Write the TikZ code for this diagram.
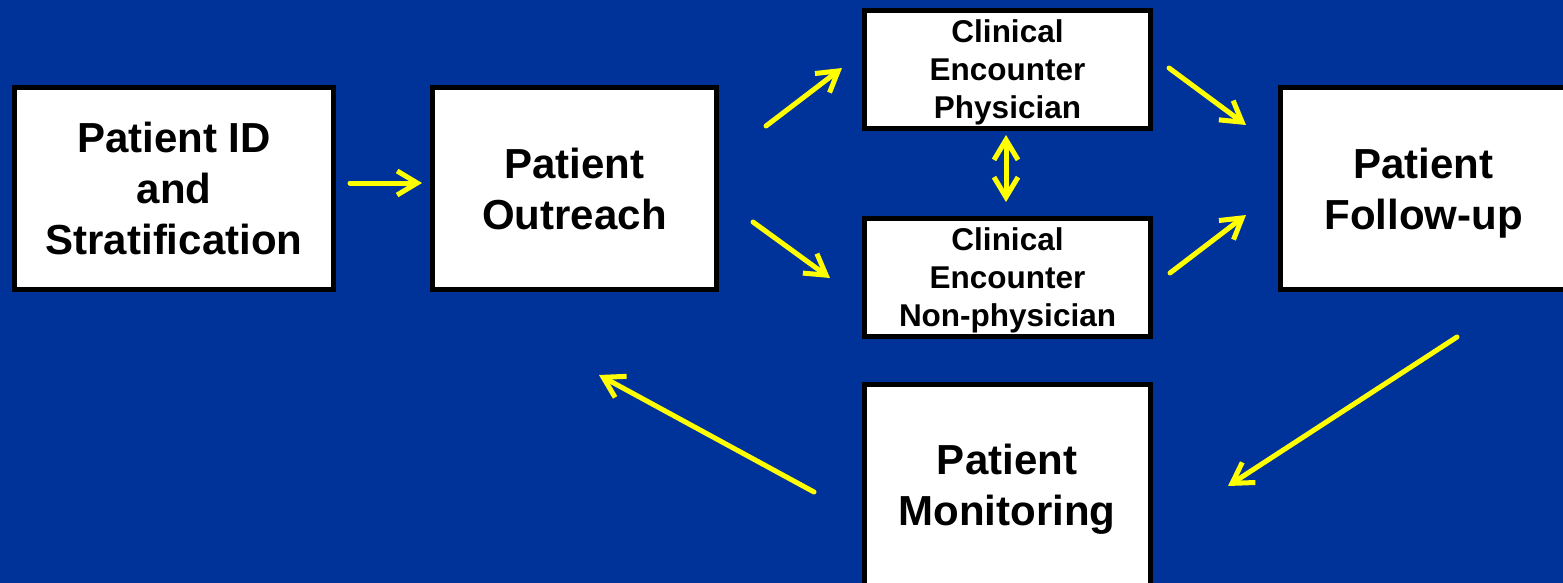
\documentclass[tikz,border=0pt]{standalone}
\usepackage{fontspec}
\setmainfont{Liberation Sans}
\usepackage{xcolor}
\usetikzlibrary{arrows.meta}
\definecolor{slideblue}{RGB}{0,51,153}
\definecolor{arrowyellow}{RGB}{255,255,0}

\begin{document}
\begin{tikzpicture}[x=1pt,y=-1pt,>={Straight Barb[length=20pt,width=24pt]},
  bigbox/.style={draw=black,line width=5pt,fill=white,inner sep=0pt,align=center,text depth=0pt,
    minimum width=286pt,minimum height=202pt,font=\fontsize{42}{51}\selectfont\bfseries},
  smallbox/.style={bigbox,minimum height=118pt,font=\fontsize{31.5}{38}\selectfont\bfseries},
  flow/.style={->,draw=arrowyellow,line width=5pt,line cap=round,line join=round}]
\useasboundingbox (0,0) rectangle (1563,583);
\fill[slideblue] (0,0) rectangle (1563,583);
\clip (0,0) rectangle (1563,583);
% boxes
\node[bigbox,minimum width=319pt] (patid) at (174,188.5) {Patient ID\\and\\Stratification};
\node[bigbox,minimum width=284pt] (outreach) at (574.5,188.5) {Patient\\Outreach};
\node[smallbox] (physician) at (1007.5,69.5) {Clinical\\Encounter\\Physician};
\node[smallbox] (nonphysician) at (1007.5,277.5) {Clinical\\Encounter\\Non-physician};
\node[bigbox] (followup) at (1423.5,188.5) {Patient\\Follow-up};
\node[bigbox] (monitoring) at (1007,485) {Patient\\Monitoring};
% arrow ends
\coordinate (patid-out) at (350,183);
\coordinate (outreach-in) at (422,183);
\coordinate (outreach-up) at (766,126);
\coordinate (physician-in) at (842,68);
\coordinate (outreach-down) at (753,222);
\coordinate (nonphysician-in) at (830,278);
\coordinate (physician-bot) at (1006,135);
\coordinate (nonphysician-top) at (1006,202);
\coordinate (physician-out) at (1169,68);
\coordinate (followup-in1) at (1246,125);
\coordinate (nonphysician-out) at (1170,273);
\coordinate (followup-in2) at (1246,215);
\coordinate (followup-out) at (1457,337);
\coordinate (monitoring-in) at (1228,486);
\coordinate (monitoring-out) at (814,492);
\coordinate (outreach-back) at (599,375);
% arrows
\draw[flow] (patid-out) -- (outreach-in);
\draw[flow] (outreach-up) -- (physician-in);
\draw[flow] (outreach-down) -- (nonphysician-in);
\draw[flow,<->] (physician-bot) -- (nonphysician-top);
\draw[flow] (physician-out) -- (followup-in1);
\draw[flow] (nonphysician-out) -- (followup-in2);
\draw[flow] (followup-out) -- (monitoring-in);
\draw[flow] (monitoring-out) -- (outreach-back);
\end{tikzpicture}
\end{document}
